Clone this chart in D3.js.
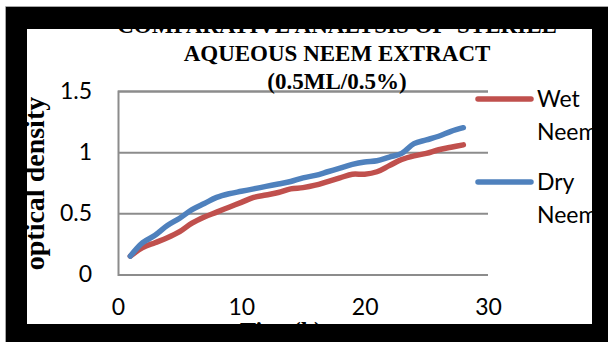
<!DOCTYPE html>
<html>
<head>
<meta charset="utf-8">
<script src="https://cdn.jsdelivr.net/npm/d3@7"></script>
<style>
  html, body { margin: 0; padding: 0; background: #fff; }
  svg { display: block; }
</style>
</head>
<body>
<svg id="chart" width="608" height="342"></svg>
<script>
// Optical density readings, one per time step
const times = d3.range(1, 29);
const wetNeem = [0.15, 0.22, 0.26, 0.30, 0.35, 0.42, 0.47, 0.51, 0.55, 0.59,
                 0.63, 0.65, 0.67, 0.70, 0.71, 0.73, 0.76, 0.79, 0.82, 0.82,
                 0.84, 0.89, 0.94, 0.97, 0.99, 1.02, 1.04, 1.06];
const dryNeem = [0.15, 0.26, 0.32, 0.40, 0.46, 0.53, 0.58, 0.63, 0.66, 0.68,
                 0.70, 0.72, 0.74, 0.76, 0.79, 0.81, 0.84, 0.87, 0.90, 0.92,
                 0.93, 0.96, 0.99, 1.07, 1.10, 1.13, 1.17, 1.20];
const seriesNames = [["Wet", "Neem"], ["Dry", "Neem"]];
const seriesColors = ["#C0504D", "#4F81BD"];
const xTicks = [0, 10, 20, 30];
const yTicks = [0, 0.5, 1, 1.5];
const titleLines = ["COMPARATIVE ANALYSIS OF  STERILE", "AQUEOUS NEEM EXTRACT", "(0.5ML/0.5%)"];
const xTitle = "Time(h)";
const yTitle = "optical density";

const svg = d3.select("#chart");
const W = 608, H = 342;
const serif = "'Liberation Serif', 'Times New Roman', serif";
const sans = "Lato, 'Open Sans', sans-serif";

const x = d3.scaleLinear().domain([0, 30]).range([118, 488]);
const y = d3.scaleLinear().domain([0, 1.5]).range([274.5, 91]);

svg.append("rect").attr("width", W).attr("height", H).attr("fill", "#fff");

// horizontal gridlines (value axis)
const yAxis = d3.axisLeft(y).tickValues(yTicks).tickSize(-(x(30) - x(0))).tickFormat(d3.format("~g")).tickPadding(26);
const gy = svg.append("g").attr("transform", `translate(${x(0)},0)`).call(yAxis);
gy.select(".domain").attr("stroke", "#8c8c8c").attr("stroke-width", 2);
gy.selectAll(".tick line").attr("stroke", "#8c8c8c").attr("stroke-width", 2);
gy.selectAll(".tick text").attr("font-family", sans).attr("font-size", 23).attr("fill", "#000");

// x axis labels only
const xAxis = d3.axisBottom(x).tickValues(xTicks).tickSize(0).tickPadding(24).tickFormat(d3.format("d"));
const gx = svg.append("g").attr("transform", `translate(0,${y(0)})`).call(xAxis);
gx.select(".domain").remove();
gx.selectAll(".tick text").attr("font-family", sans).attr("font-size", 23).attr("fill", "#000");

// data lines
const line = d3.line().x((d, i) => x(times[i])).y(d => y(d)).curve(d3.curveCatmullRom.alpha(0.5));
[wetNeem, dryNeem].forEach((vals, k) => {
  svg.append("path").datum(vals)
    .attr("d", line)
    .attr("fill", "none")
    .attr("stroke", seriesColors[k])
    .attr("stroke-width", 5.5)
    .attr("stroke-linejoin", "round")
    .attr("stroke-linecap", "round");
});

// legend
const legendY = [99, 182];
seriesNames.forEach((lines, k) => {
  const g = svg.append("g");
  g.append("line")
    .attr("x1", 478).attr("x2", 531)
    .attr("y1", legendY[k]).attr("y2", legendY[k])
    .attr("stroke", seriesColors[k]).attr("stroke-width", 5.5).attr("stroke-linecap", "round");
  lines.forEach((t, j) => {
    g.append("text")
      .attr("x", 537).attr("y", legendY[k] + j * 33)
      .attr("dy", "0.35em")
      .attr("font-family", sans).attr("font-size", 23).attr("fill", "#000")
      .text(t);
  });
});

// chart title
titleLines.forEach((t, i) => {
  svg.append("text")
    .attr("x", 337).attr("y", 33 + i * 28)
    .attr("text-anchor", "middle")
    .attr("font-family", serif).attr("font-weight", "bold").attr("font-size", 23)
    .attr("fill", "#000")
    .style("white-space", "pre")
    .text(t);
});

// axis titles
svg.append("text")
  .attr("transform", "translate(44,183.5) rotate(-90)")
  .attr("text-anchor", "middle")
  .attr("font-family", serif).attr("font-weight", "bold").attr("font-size", 28)
  .attr("fill", "#000")
  .text(yTitle);

svg.append("text")
  .attr("x", 281).attr("y", 338)
  .attr("text-anchor", "middle")
  .attr("font-family", serif).attr("font-weight", "bold").attr("font-size", 24)
  .attr("fill", "#000")
  .text(xTitle);

// black frame around the chart, drawn last so it crops the edges
svg.append("path")
  .attr("fill-rule", "evenodd")
  .attr("fill", "#000")
  .attr("d", `M6,7H${W}V${H}H6Z M27,29V324H592V29Z`);
svg.append("path")
  .attr("fill", "none")
  .attr("stroke", "#a6a6a6")
  .attr("stroke-width", 1)
  .attr("d", `M5.5,${H}V6.5H${W}`);
</script>
</body>
</html>
